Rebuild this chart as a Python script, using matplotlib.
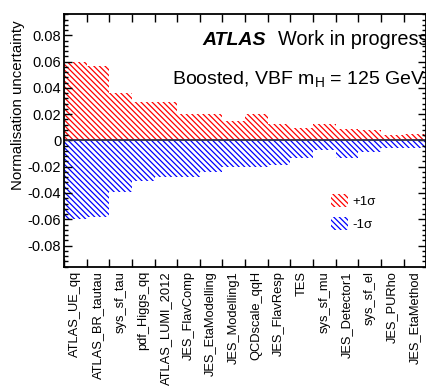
import matplotlib as mpl
mpl.use("Agg")
import matplotlib.pyplot as plt
import numpy as np
from matplotlib.ticker import MultipleLocator

plt.rcParams['font.family'] = ['Liberation Sans', 'DejaVu Sans']
plt.rcParams['hatch.linewidth'] = 0.9

# nuisance parameters, ranked
labels = ['ATLAS_UE_qq', 'ATLAS_BR_tautau', 'sys_sf_tau', 'pdf_Higgs_qq',
          'ATLAS_LUMI_2012', 'JES_FlavComp', 'JES_EtaModelling', 'JES_Modelling1',
          'QCDscale_qqH', 'JES_FlavResp', 'TES', 'sys_sf_mu', 'JES_Detector1',
          'sys_sf_el', 'JES_PURho', 'JES_EtaMethod']
up = [0.060, 0.057, 0.036, 0.029, 0.029, 0.020, 0.020, 0.015,
      0.020, 0.0125, 0.0095, 0.0125, 0.0085, 0.008, 0.0043, 0.0052]
down = [-0.060, -0.058, -0.039, -0.031, -0.028, -0.028, -0.024, -0.0205,
        -0.020, -0.019, -0.0135, -0.0075, -0.013, -0.0085, -0.006, -0.006]

x = np.arange(len(labels))
hatch = '\\' * 6

fig = plt.figure(figsize=(4.27, 3.89), dpi=100)
ax = fig.add_axes([0.150, 0.314, 0.848, 0.650])

ax.bar(x, up, width=1, align='edge', facecolor='none', edgecolor='#ff0000',
       linewidth=0, hatch=hatch, label='+1\u03c3')
ax.bar(x, down, width=1, align='edge', facecolor='none', edgecolor='#0000ff',
       linewidth=0, hatch=hatch, label='-1\u03c3')
ax.axhline(0, color='#333344', lw=1.3)

ax.set_xlim(0, len(labels))
ax.set_ylim(-0.0962, 0.0962)

# ticks on bin edges, labels at bin centres
ax.set_xticks(np.arange(len(labels) + 1))
ax.set_xticklabels([])
ax.set_xticks(x + 0.5, minor=True)
ax.set_xticklabels(labels, minor=True, rotation=90, fontsize=9.3)
ax.tick_params(axis='x', which='major', direction='in', length=6, width=1, top=True)
ax.tick_params(axis='x', which='minor', length=0, pad=3)

ax.yaxis.set_minor_locator(MultipleLocator(0.004))
ax.set_yticks(np.arange(-0.08, 0.081, 0.02))
ax.set_yticklabels(['-0.08', '-0.06', '-0.04', '-0.02', '0', '0.02', '0.04', '0.06', '0.08'])
ax.tick_params(axis='y', which='major', direction='in', length=6, width=1, right=True,
               labelsize=10.5, pad=2)
ax.tick_params(axis='y', which='minor', direction='in', length=3, width=1, right=True)

for s in ax.spines.values():
    s.set_linewidth(1.3)

ax.set_ylabel('Normalisation uncertainty', fontsize=10.8)
ax.yaxis.set_label_coords(-0.108, 0.640)

ax.text(0.382, 0.878, 'ATLAS', transform=ax.transAxes, fontsize=14,
        fontweight='bold', fontstyle='italic')
ax.text(0.59, 0.878, 'Work in progress', transform=ax.transAxes, fontsize=14.3)
ax.text(0.297, 0.72, r'Boosted, VBF m$_\mathregular{H}$ = 125 GeV',
        transform=ax.transAxes, fontsize=14)

ax.legend(loc='upper left', bbox_to_anchor=(0.737, 0.287), frameon=False,
          fontsize=9.5, handlelength=1.3, handleheight=1.1, handletextpad=0.3,
          labelspacing=0.7, borderaxespad=0, borderpad=0)

fig.savefig('out.png', dpi=100)
